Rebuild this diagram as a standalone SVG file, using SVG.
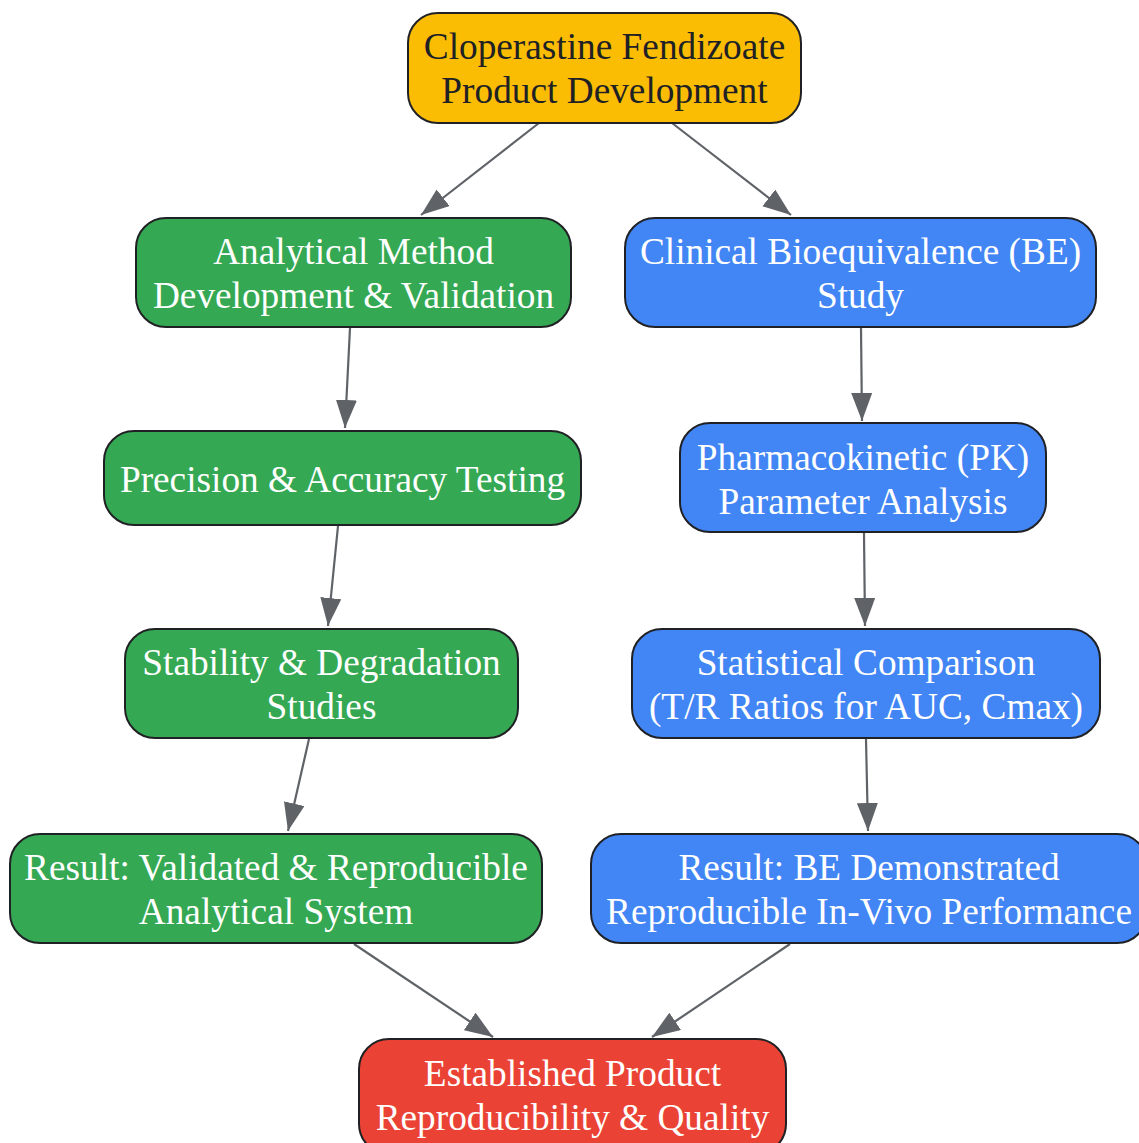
<svg xmlns="http://www.w3.org/2000/svg" width="1139" height="1143" viewBox="0 0 1139 1143">
<style>
.n{stroke:#202124;stroke-width:2}
.y{fill:#FBBC04}.g{fill:#34A853}.b{fill:#4285F4}.r{fill:#EA4335}
text{font-family:"Liberation Serif","Times New Roman",serif;font-size:37.3px;text-anchor:middle;fill:#ffffff}
text.d{fill:#202124}
.e{stroke:#5f6368;stroke-width:2.2;fill:none;marker-end:url(#ah)}
</style>
<defs>
<marker id="ah" markerUnits="userSpaceOnUse" markerWidth="30" markerHeight="22" refX="28" refY="10.5" orient="auto">
<path d="M0,0 L28,10.5 L0,21 z" fill="#5f6368"/>
</marker>
</defs>
<rect width="1139" height="1143" fill="#ffffff"/>
<g id="edges">
<line class="e" x1="539" y1="123" x2="421" y2="215"/>
<line class="e" x1="672" y1="123" x2="791" y2="215"/>
<line class="e" x1="350" y1="328" x2="345" y2="428"/>
<line class="e" x1="338" y1="526" x2="328" y2="626"/>
<line class="e" x1="309" y1="739" x2="288" y2="831"/>
<line class="e" x1="861" y1="328" x2="862" y2="421"/>
<line class="e" x1="864" y1="533" x2="865" y2="626"/>
<line class="e" x1="866" y1="739" x2="868" y2="831"/>
<line class="e" x1="354" y1="944" x2="493" y2="1037"/>
<line class="e" x1="790" y1="944" x2="652" y2="1037"/>
</g>
<g id="n_top">
<rect class="n y" x="408" y="13" width="393" height="110" rx="30"/>
<text class="d" x="604.5" y="59">Cloperastine Fendizoate</text>
<text class="d" x="604.5" y="103">Product Development</text>
</g>
<g id="n_amv">
<rect class="n g" x="136" y="218" width="435" height="109" rx="30"/>
<text x="353.5" y="264">Analytical Method</text>
<text x="353.5" y="308">Development &amp; Validation</text>
</g>
<g id="n_be">
<rect class="n b" x="625" y="218" width="471" height="109" rx="30"/>
<text x="860.5" y="264">Clinical Bioequivalence (BE)</text>
<text x="860.5" y="308">Study</text>
</g>
<g id="n_prec">
<rect class="n g" x="104" y="431" width="477" height="94" rx="30"/>
<text x="342.5" y="492">Precision &amp; Accuracy Testing</text>
</g>
<g id="n_pk">
<rect class="n b" x="680" y="423" width="366" height="109" rx="30"/>
<text x="863" y="470">Pharmacokinetic (PK)</text>
<text x="863" y="514">Parameter Analysis</text>
</g>
<g id="n_stab">
<rect class="n g" x="125" y="629" width="393" height="109" rx="30"/>
<text x="321.5" y="675">Stability &amp; Degradation</text>
<text x="321.5" y="719">Studies</text>
</g>
<g id="n_stat">
<rect class="n b" x="632" y="629" width="468" height="109" rx="30"/>
<text x="866" y="675">Statistical Comparison</text>
<text x="866" y="719">(T/R Ratios for AUC, Cmax)</text>
</g>
<g id="n_resA">
<rect class="n g" x="10" y="834" width="532" height="109" rx="30"/>
<text x="276" y="880">Result: Validated &amp; Reproducible</text>
<text x="276" y="924">Analytical System</text>
</g>
<g id="n_resB">
<rect class="n b" x="591" y="834" width="556" height="109" rx="30"/>
<text x="869" y="880">Result: BE Demonstrated</text>
<text x="869" y="924">Reproducible In-Vivo Performance</text>
</g>
<g id="n_final">
<rect class="n r" x="359" y="1039" width="427" height="115" rx="30"/>
<text x="572.5" y="1086">Established Product</text>
<text x="572.5" y="1130">Reproducibility &amp; Quality</text>
</g>
</svg>
